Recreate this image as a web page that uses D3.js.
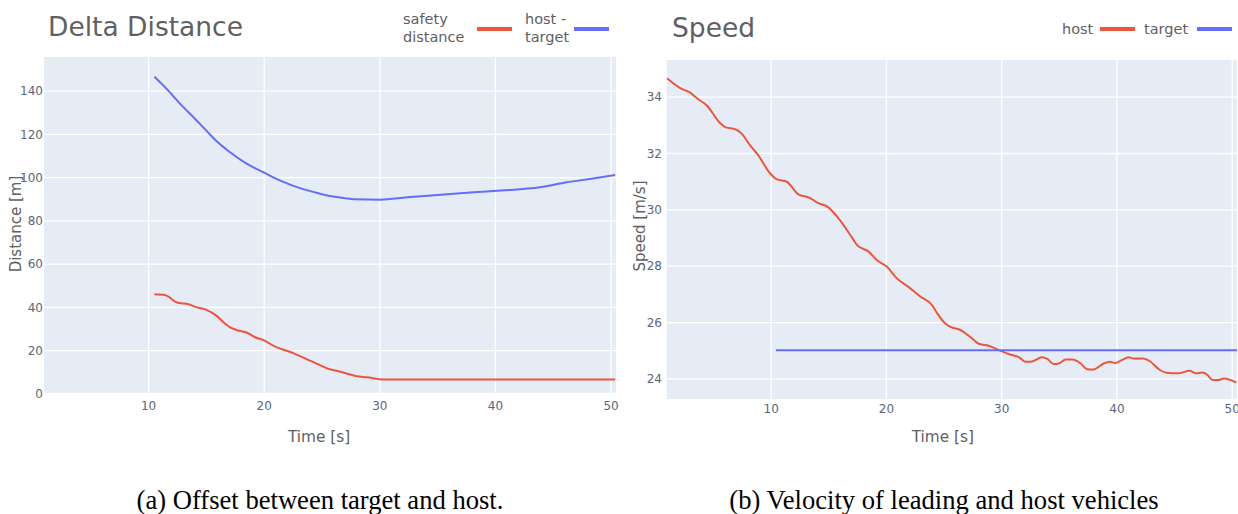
<!DOCTYPE html>
<html>
<head>
<meta charset="utf-8">
<script src="https://cdn.jsdelivr.net/npm/d3@7/dist/d3.min.js"></script>
<style>
  html, body { margin: 0; padding: 0; background: #fff; }
  svg { display: block; }
</style>
</head>
<body>
<svg id="fig" width="1238" height="514"></svg>
<script>
// ---- Delta distance panel data (time in s, distance in m) ----
const gapTime = [10.55, 11.64, 12.8, 13.95, 15.1, 15.96, 17.1, 18.56, 20.0, 21.44, 23.2, 24.9,
  25.5, 26.6, 27.8, 30.1, 32.4, 35.3, 38.17, 40.5, 43.9, 46.2, 48.2, 50.4];
const gapDist = [146.5, 140.7, 133.8, 127.6, 121.2, 116.5, 111.5, 106.1, 102.2, 98.4, 94.8, 92.3,
  91.5, 90.6, 89.8, 89.6, 90.7, 91.9, 93.0, 93.8, 95.3, 97.6, 99.2, 101.0];

const safeTime = [10.55, 11.5, 12.5, 13.5, 14.1, 14.95, 15.96, 16.5, 17.1, 17.7, 18.56, 19.3, 20.0,
  20.9, 21.6, 22.6, 23.75, 24.35, 25.5, 26.65, 27.95, 28.95, 30.4, 50.4];
const safeDist = [45.8, 45.4, 42.0, 41.2, 40.0, 38.8, 35.7, 33.0, 30.5, 29.2, 28.0, 25.8, 24.6,
  21.8, 20.4, 18.5, 15.7, 14.3, 11.5, 10.0, 8.0, 7.4, 6.4, 6.4];

// ---- Speed panel data (time in s, speed in m/s) ----
const hostTime = [1.0, 2.15, 3.0, 3.6, 4.5, 5.5, 6.1, 6.95, 7.5, 8.2, 8.9, 9.94, 10.5, 11.4, 12.4,
  13.4, 14.0, 15.0, 16.0, 17.1, 17.5, 18.5, 19.2, 20.1, 20.95, 21.95, 23.0, 24.0, 24.45, 25.2, 25.6,
  26.5, 27.35, 28.1, 28.9, 29.95, 30.7, 31.55, 32.1, 32.55, 33.55, 34.0, 34.55, 35.0, 35.6, 36.15,
  36.9, 37.45, 38.0, 38.9, 39.45, 39.9, 40.45, 41.05, 41.5, 42.3, 42.9, 43.8, 44.35, 45.35, 46.35,
  46.9, 47.5, 47.9, 48.35, 48.8, 49.35, 49.95, 50.4];
const hostSpeed = [34.65, 34.30, 34.14, 33.94, 33.67, 33.11, 32.91, 32.84, 32.68, 32.28, 31.93, 31.28,
  31.07, 30.98, 30.53, 30.41, 30.25, 30.07, 29.62, 28.97, 28.73, 28.50, 28.20, 27.96, 27.55, 27.25,
  26.90, 26.60, 26.31, 25.93, 25.83, 25.71, 25.46, 25.22, 25.16, 24.98, 24.86, 24.75, 24.59, 24.59,
  24.75, 24.69, 24.51, 24.53, 24.67, 24.67, 24.53, 24.33, 24.32, 24.53, 24.59, 24.55, 24.65, 24.75,
  24.71, 24.71, 24.61, 24.29, 24.20, 24.18, 24.27, 24.18, 24.21, 24.12, 23.94, 23.94, 24.00, 23.94,
  23.85];

const targetTime = [10.45, 50.5];
const targetSpeed = [25, 25];

// ---- Tick values ----
const timeTicks = [10, 20, 30, 40, 50];
const distTicks = [0, 20, 40, 60, 80, 100, 120, 140];
const speedTicks = [24, 26, 28, 30, 32, 34];

const RED = "#EF553B", BLUE = "#636EFA";
const TEXT = "#5f6062", TICK = "#5a667c";
const FONT = "'DejaVu Sans', Verdana, sans-serif";

const svg = d3.select("#fig");

function zip(xs, ys) { return xs.map((x, i) => [x, ys[i]]); }

function panel(cfg) {
  const g = svg.append("g");
  const x = d3.scaleLinear().domain(cfg.xDomain).range([cfg.left, cfg.right]);
  const y = d3.scaleLinear().domain(cfg.yDomain).range([cfg.bottom, cfg.top]);

  // plot background
  g.append("rect")
    .attr("x", cfg.left).attr("y", cfg.top)
    .attr("width", cfg.right - cfg.left).attr("height", cfg.bottom - cfg.top)
    .attr("fill", "#E5ECF6");

  // grid via axes
  const xGrid = d3.axisBottom(x).tickValues(timeTicks).tickSize(-(cfg.bottom - cfg.top)).tickFormat("");
  g.append("g").attr("transform", `translate(0,${cfg.bottom})`).call(xGrid)
    .call(s => s.select(".domain").remove())
    .call(s => s.selectAll("line").attr("stroke", "#fff").attr("stroke-width", 1.3));
  const yGrid = d3.axisLeft(y).tickValues(cfg.yTicks).tickSize(-(cfg.right - cfg.left)).tickFormat("");
  g.append("g").attr("transform", `translate(${cfg.left},0)`).call(yGrid)
    .call(s => s.select(".domain").remove())
    .call(s => s.selectAll("line")
      .attr("stroke", "#fff")
      .attr("stroke-width", d => d === 0 ? 2.2 : 1.3));

  // tick labels
  const xAx = d3.axisBottom(x).tickValues(timeTicks).tickSize(0).tickPadding(0).tickFormat(d3.format("d"));
  g.append("g").attr("transform", `translate(0,${cfg.xLabelY})`).call(xAx)
    .call(s => s.select(".domain").remove())
    .call(s => s.selectAll("text").attr("fill", TICK).attr("font-family", FONT)
      .attr("font-size", 12).attr("dy", "0.35em"));
  const yAx = d3.axisLeft(y).tickValues(cfg.yTicks).tickSize(0).tickPadding(0).tickFormat(d3.format("d"));
  g.append("g").attr("transform", `translate(${cfg.yLabelX},0)`).call(yAx)
    .call(s => s.select(".domain").remove())
    .call(s => s.selectAll("text").attr("fill", TICK).attr("font-family", FONT)
      .attr("font-size", 12).attr("dy", "0.35em"));

  // clip for data
  const clipId = "clip-" + cfg.id;
  svg.append("clipPath").attr("id", clipId).append("rect")
    .attr("x", cfg.left).attr("y", cfg.top)
    .attr("width", cfg.right - cfg.left).attr("height", cfg.bottom - cfg.top);

  const line = d3.line().x(d => x(d[0])).y(d => y(d[1])).curve(d3.curveMonotoneX);
  cfg.series.forEach(s => {
    g.append("path").datum(zip(s.t, s.v))
      .attr("clip-path", `url(#${clipId})`)
      .attr("fill", "none").attr("stroke", s.color)
      .attr("stroke-width", 2).attr("stroke-linejoin", "round")
      .attr("d", line);
  });

  // title
  g.append("text").attr("x", cfg.titleX).attr("y", cfg.titleY)
    .attr("font-family", FONT).attr("font-size", 26.5).attr("fill", TEXT)
    .text(cfg.title);

  // axis titles
  g.append("text").attr("x", (cfg.left + cfg.right) / 2 + cfg.xTitleDx).attr("y", cfg.xTitleY)
    .attr("text-anchor", "middle").attr("dy", "0.35em")
    .attr("font-family", FONT).attr("font-size", 15.3).attr("fill", TEXT)
    .text(cfg.xTitle);
  g.append("text")
    .attr("transform", `translate(${cfg.yTitleX},${cfg.yTitleY}) rotate(-90)`)
    .attr("text-anchor", "middle").attr("dy", "0.35em")
    .attr("font-family", FONT).attr("font-size", 15).attr("fill", TEXT)
    .text(cfg.yTitle);

  // legend
  cfg.legend.forEach(item => {
    const t = g.append("text").attr("x", item.x).attr("y", item.y)
      .attr("font-family", FONT).attr("font-size", 14.5).attr("fill", TEXT);
    item.lines.forEach((ln, i) => {
      t.append("tspan").attr("x", item.x).attr("dy", i === 0 ? 0 : 17.5).text(ln);
    });
    g.append("line").attr("x1", item.sx).attr("x2", item.sx + 35)
      .attr("y1", item.sy).attr("y2", item.sy)
      .attr("stroke", item.color).attr("stroke-width", 4);
  });

  // caption
  g.append("text").attr("x", cfg.captionX).attr("y", 500)
    .attr("text-anchor", "middle").attr("dy", "0.35em")
    .attr("font-family", "'Liberation Serif', 'Times New Roman', serif")
    .attr("font-size", 26.6).attr("fill", "#000")
    .text(cfg.caption);
}

panel({
  id: "dist",
  left: 44, right: 616, top: 57, bottom: 395,
  xDomain: [1.0, 50.47], yDomain: [-0.79, 155.6],
  yTicks: distTicks,
  xLabelY: 406, yLabelX: 43,
  title: "Delta Distance", titleX: 48, titleY: 36,
  xTitle: "Time [s]", xTitleY: 437, xTitleDx: -11,
  yTitle: "Distance [m]", yTitleX: 16, yTitleY: 224,
  series: [
    { t: safeTime, v: safeDist, color: RED },
    { t: gapTime, v: gapDist, color: BLUE }
  ],
  legend: [
    { lines: ["safety", "distance"], x: 403, y: 24, sx: 477, sy: 29, color: RED },
    { lines: ["host -", "target"], x: 525, y: 24, sx: 574, sy: 29, color: BLUE }
  ],
  caption: "(a) Offset between target and host.", captionX: 320
});

panel({
  id: "speed",
  left: 666.7, right: 1237, top: 60, bottom: 399,
  xDomain: [0.976, 50.46], yDomain: [23.27, 35.3],
  yTicks: speedTicks,
  xLabelY: 409, yLabelX: 662,
  title: "Speed", titleX: 672, titleY: 37,
  xTitle: "Time [s]", xTitleY: 437, xTitleDx: -9,
  yTitle: "Speed [m/s]", yTitleX: 640, yTitleY: 226,
  series: [
    { t: hostTime, v: hostSpeed, color: RED },
    { t: targetTime, v: targetSpeed, color: BLUE }
  ],
  legend: [
    { lines: ["host"], x: 1062, y: 34, sx: 1100, sy: 29, color: RED },
    { lines: ["target"], x: 1144, y: 34, sx: 1197, sy: 29, color: BLUE }
  ],
  caption: "(b) Velocity of leading and host vehicles", captionX: 944
});
</script>
</body>
</html>
